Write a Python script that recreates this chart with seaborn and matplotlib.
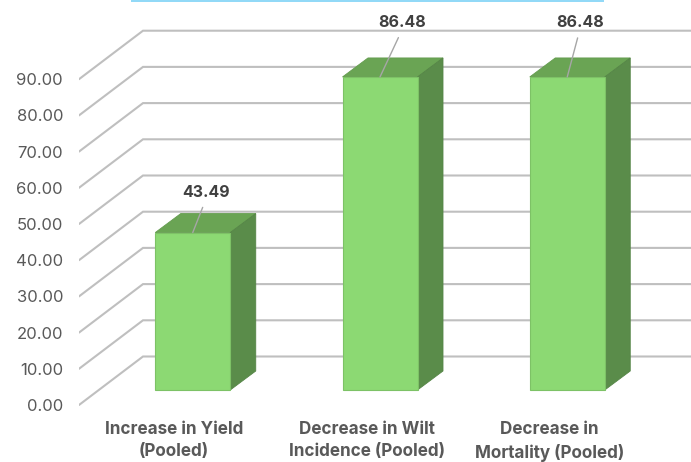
import matplotlib
matplotlib.use('Agg')
import matplotlib.pyplot as plt
from matplotlib.patches import Rectangle
from matplotlib.transforms import ScaledTranslation
import pandas as pd
import seaborn as sns

# Values
categories = ['Increase in Yield\n(Pooled)', 'Decrease in Wilt\nIncidence (Pooled)', 'Decrease in\nMortality (Pooled)']
values = [43.49, 86.48, 86.48]
value_labels = ['43.49', '86.48', '86.48']
tick_values = [0, 10, 20, 30, 40, 50, 60, 70, 80, 90]

# Pixel layout of the fake 3D box
W, H = 691, 462
PX_PER_CAT = 187.25
PX_PER_VAL = 3.62
FIRST_BAR_PX = 192.75
BASE_PX = 390
AXES_LEFT, AXES_BOTTOM = 79, 412
FLOOR_DROP = 15 / PX_PER_VAL          # front floor edge sits below the bars
WALL_DX = 64 / PX_PER_CAT             # side wall depth
WALL_DY = 48.5 / PX_PER_VAL
BAR_DX = 25.5 / PX_PER_CAT            # bar depth
BAR_DY = 19 / PX_PER_VAL
BAR_WIDTH = 75 / PX_PER_CAT

FRONT, TOP, SIDE = '#8CD973', '#6AA454', '#5A8C4A'
GRID = '#BFBFBF'

sns.set_theme(style='white')
plt.rcParams['font.family'] = ['Inter', 'DejaVu Sans']

df = pd.DataFrame({'category': categories, 'value': values})

fig = plt.figure(figsize=(W / 100, H / 100), dpi=100)
ax = fig.add_axes([AXES_LEFT / W, (H - AXES_BOTTOM) / H, (W - AXES_LEFT) / W, AXES_BOTTOM / H])

sns.barplot(data=df, x='category', y='value', color=FRONT, saturation=1, width=BAR_WIDTH,
            edgecolor='#7DC266', linewidth=0.8, zorder=4, ax=ax)

x_left = (AXES_LEFT - FIRST_BAR_PX) / PX_PER_CAT
x_right = (W - FIRST_BAR_PX) / PX_PER_CAT
ax.set_xlim(x_left, x_right)
ax.set_ylim((BASE_PX - AXES_BOTTOM) / PX_PER_VAL, BASE_PX / PX_PER_VAL)

# Floor and back wall lines
for t in tick_values:
    y0 = t - FLOOR_DROP
    ax.plot([x_left, x_left + WALL_DX, x_right], [y0, y0 + WALL_DY, y0 + WALL_DY],
            color=GRID, lw=1.5, zorder=1, solid_joinstyle='miter')

# Top and side faces of every bar
for i, v in enumerate(values):
    l, r = i - BAR_WIDTH / 2, i + BAR_WIDTH / 2
    ax.fill([l, r, r + BAR_DX, l + BAR_DX], [v, v, v + BAR_DY, v + BAR_DY],
            color=TOP, ec='#649C4F', lw=0.6, zorder=3)
    ax.fill([r, r + BAR_DX, r + BAR_DX, r], [0, BAR_DY, v + BAR_DY, v],
            color=SIDE, ec='#558546', lw=0.6, zorder=3)

# Data labels with leader lines
label_offsets = [(13, 33), (22, 47), (12.5, 47)]
for i, v in enumerate(values):
    ax.annotate(value_labels[i], xy=(i, v), xytext=label_offsets[i], textcoords='offset pixels',
                ha='center', va='bottom', fontsize=11.5, fontweight='bold', color='#404040',
                arrowprops=dict(arrowstyle='-', color='#A6A6A6', lw=1, shrinkA=3.5, shrinkB=0,
                                relpos=(0.5, 0)), zorder=6)

ax.set_yticks([t - FLOOR_DROP for t in tick_values])
ax.set_yticklabels([f'{t:.2f}' for t in tick_values])
ax.tick_params(axis='y', length=0, pad=11.5, labelsize=12, labelcolor='#595959')
ax.tick_params(axis='x', length=0, pad=6.5, labelsize=12.3, labelcolor='#595959')

# Category labels sit left of their bars in the original
label_shift = [-18.5, -13, -18]
for lab, dx in zip(ax.get_xticklabels(), label_shift):
    lab.set_fontweight('bold')
    lab.set_linespacing(1.42)
    lab.set_transform(lab.get_transform() + ScaledTranslation(dx / 100, 0, fig.dpi_scale_trans))
ax.set_xlabel('')
ax.set_ylabel('')
sns.despine(ax=ax, left=True, bottom=True, top=True, right=True)

# Light blue rule cut off at the top of the picture
fig.add_artist(Rectangle((131 / W, 1 - 2 / H), 473 / W, 2 / H, transform=fig.transFigure,
                         color='#92D9F7', lw=0))

fig.savefig('out.png', dpi=100)
